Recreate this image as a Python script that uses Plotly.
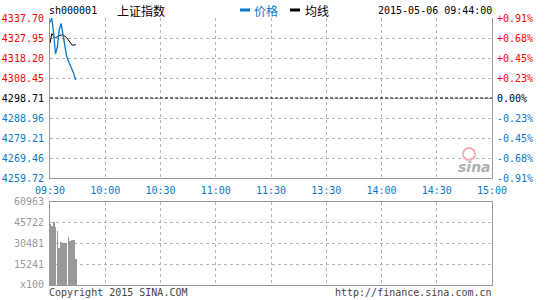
import plotly.graph_objects as go

# ---------------- data ----------------
times = ["09:30", "09:31", "09:32", "09:33", "09:34", "09:35", "09:36", "09:37",
         "09:38", "09:39", "09:40", "09:41", "09:42", "09:43", "09:44"]
price = [4335.5, 4337.6, 4330.0, 4320.2, 4323.6, 4331.9, 4335.1, 4330.4,
         4324.1, 4319.2, 4316.7, 4314.8, 4312.8, 4310.4, 4307.5]
avg_line = [4325.5, 4330.1, 4328.9, 4328.0, 4328.7, 4329.2, 4329.4, 4329.4,
            4328.9, 4328.2, 4327.0, 4325.5, 4324.5, 4324.5, 4324.8]
volume = [45000, 43300, 46000, 42800, 39900, 27400, 31600, 30600,
          30600, 31200, 35000, 32500, 33200, 33000, 19100]

price_ticks = [4259.72, 4269.46, 4279.21, 4288.96, 4298.71, 4308.45, 4318.20, 4327.95, 4337.70]
price_labels = ["4259.72", "4269.46", "4279.21", "4288.96", "4298.71", "4308.45", "4318.20", "4327.95", "4337.70"]
pct_labels = ["-0.91%", "-0.68%", "-0.45%", "-0.23%", "0.00%", "+0.23%", "+0.45%", "+0.68%", "+0.91%"]
prev_close = 4298.71

vol_ticks = [0, 15241, 30481, 45722, 60963]
vol_labels = ["x100", "15241", "30481", "45722", "60963"]

time_ticks = ["09:30", "10:00", "10:30", "11:00", "11:30", "13:30", "14:00", "14:30", "15:00"]

# ---------------- helpers ----------------
def minute_index(t):
    h, m = map(int, t.split(":"))
    mins = h * 60 + m
    if mins <= 11 * 60 + 30:
        return mins - (9 * 60 + 30)
    return 120 + mins - (13 * 60)

x_vals = [minute_index(t) for t in times]
tick_x = [0, 30, 60, 90, 120, 150, 180, 210, 240]

RED = "#ff0000"
BLUE = "#0a78cc"
BLACK = "#000000"
GRAY = "#999999"
GRID = "#b4b4b4"
FONT = "DejaVu Sans Mono"

def colored(labels, values):
    out = []
    for lab, v in zip(labels, values):
        if abs(v - prev_close) < 1e-6:
            c = BLACK
        elif v > prev_close:
            c = RED
        else:
            c = BLUE
        out.append(f"<span style='color:{c}'>{lab}</span>")
    return out

fig = go.Figure()

fig.add_trace(go.Scatter(x=x_vals, y=avg_line, mode="lines",
                         line=dict(color=BLACK, width=1), xaxis="x", yaxis="y",
                         hoverinfo="skip", showlegend=False))
fig.add_trace(go.Scatter(x=x_vals, y=price, mode="lines",
                         line=dict(color=BLUE, width=1.3), xaxis="x", yaxis="y",
                         hoverinfo="skip", showlegend=False))
fig.add_trace(go.Scatter(x=x_vals, y=price, mode="lines", opacity=0,
                         line=dict(width=0), xaxis="x", yaxis="y2",
                         hoverinfo="skip", showlegend=False))
fig.add_trace(go.Bar(x=x_vals, y=volume, width=0.38, marker=dict(color=GRAY, line=dict(width=0)),
                     xaxis="x2", yaxis="y3", hoverinfo="skip", showlegend=False))

prange = [price_ticks[0], price_ticks[-1]]

fig.update_layout(
    width=545, height=300,
    margin=dict(l=50, r=53, t=18, b=15, autoexpand=False),
    paper_bgcolor="white", plot_bgcolor="white",
    font=dict(family=FONT, size=10, color=BLACK),
    bargap=0,
    xaxis=dict(domain=[0, 1], range=[0, 240], anchor="y",
               tickmode="array", tickvals=tick_x, ticktext=time_ticks,
               tickfont=dict(color=BLUE, size=10, family=FONT),
               showgrid=True, gridcolor=GRID, griddash="dot", gridwidth=1,
               showline=True, linecolor=GRAY, linewidth=1, mirror=False,
               ticks="", zeroline=False, ticklabelstandoff=3),
    yaxis=dict(domain=[0.4007, 1], range=prange, anchor="x",
               tickmode="array", tickvals=price_ticks,
               ticktext=colored(price_labels, price_ticks),
               tickfont=dict(size=10, family=FONT),
               showgrid=True, gridcolor=GRID, griddash="dot", gridwidth=1,
               showline=True, linecolor=GRAY, linewidth=1,
               ticks="", zeroline=False, ticklabelstandoff=3),
    yaxis2=dict(overlaying="y", side="right", range=prange, anchor="x",
                tickmode="array", tickvals=price_ticks,
                ticktext=colored(pct_labels, price_ticks),
                tickfont=dict(size=10, family=FONT),
                showgrid=False, showline=True, linecolor=GRAY, linewidth=1,
                ticks="", zeroline=False, ticklabelstandoff=2),
    xaxis2=dict(domain=[0, 1], range=[0, 240], anchor="y3",
                tickmode="array", tickvals=tick_x, showticklabels=False,
                showgrid=True, gridcolor=GRID, griddash="dot", gridwidth=1,
                showline=True, linecolor=GRAY, linewidth=1, mirror=True,
                ticks="", zeroline=False),
    yaxis3=dict(domain=[0, 0.3109], range=[0, vol_ticks[-1]], anchor="x2",
                tickmode="array", tickvals=vol_ticks, ticktext=vol_labels,
                tickfont=dict(color=GRAY, size=10, family=FONT),
                showgrid=True, gridcolor=GRID, griddash="dot", gridwidth=1,
                showline=True, linecolor=GRAY, linewidth=1, mirror=True,
                ticks="", zeroline=False, ticklabelstandoff=3),
)

fig.add_shape(type="line", xref="x", yref="y", x0=0, x1=240, y0=prev_close, y1=prev_close,
              line=dict(color=BLACK, width=1, dash="3px,2px"))

def ann(text, x, y, xanchor="left", color=BLACK, size=10, family=FONT, **kw):
    fig.add_annotation(text=text, x=x, y=y, xref="paper", yref="paper",
                       xanchor=xanchor, yanchor="middle", showarrow=False,
                       font=dict(color=color, size=size, family=family), **kw)

W, H = 545, 300
pw, ph = W - 50 - 53, H - 18 - 15
def px(xp):
    return (xp - 50) / pw
def py(yp):
    return (H - 15 - yp) / ph

# header
ann("sh000001", px(47), py(11), size=10)
ann("上证指数", px(115), py(11), size=12, family="Noto Sans CJK SC")
fig.add_shape(type="line", xref="paper", yref="paper", x0=px(240), x1=px(250),
              y0=py(10), y1=py(10), line=dict(color=BLUE, width=3))
ann("价格", px(252), py(11), color=BLUE, size=12, family="Noto Sans CJK SC")
fig.add_shape(type="line", xref="paper", yref="paper", x0=px(290), x1=px(300),
              y0=py(10), y1=py(10), line=dict(color=BLACK, width=3))
ann("均线", px(303), py(11), color=BLACK, size=12, family="Noto Sans CJK SC")
ann("2015-05-06 09:44:00", px(494), py(11), xanchor="right", size=10)

# footer
ann("Copyright 2015 SINA.COM", px(47), py(292), color="#444444", size=10)
ann("http://finance.sina.com.cn", px(494), py(292), xanchor="right", color="#444444", size=10)

# sina watermark
fig.add_shape(type="circle", xref="paper", yref="paper",
              x0=px(463), x1=px(475), y0=py(148), y1=py(160),
              line=dict(color="#f4b0b0", width=2), fillcolor="rgba(0,0,0,0)")
ann("<b><i>sina</i></b>", px(474), py(167), xanchor="center", color="#b0b0b0", size=14,
    family="DejaVu Sans")

fig.write_html("out.html")
